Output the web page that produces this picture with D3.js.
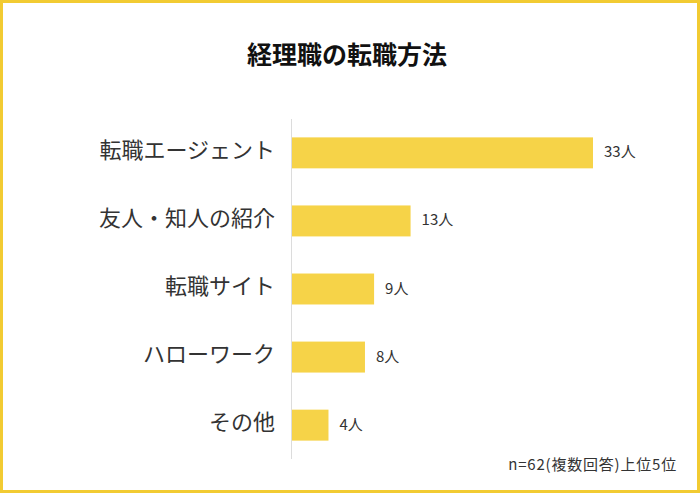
<!DOCTYPE html>
<html><head><meta charset="utf-8">
<script src="https://cdn.jsdelivr.net/npm/d3@7"></script>
<style>
html,body{margin:0;padding:0;background:#fff;}
svg{display:block;}
text{font-family:"Noto Sans CJK JP","Noto Sans",sans-serif;}
</style></head>
<body>
<script>
const categories = ["転職エージェント","友人・知人の紹介","転職サイト","ハローワーク","その他"];
const values = [33,13,9,8,4];
const valueSuffix = "人";
const title = "経理職の転職方法";
const note = "n=62(複数回答)上位5位";

const W = 700, H = 493;
const svg = d3.select("body").append("svg").attr("width", W).attr("height", H);

svg.append("rect").attr("x",1.5).attr("y",1.5).attr("width",W-3).attr("height",H-3)
  .attr("fill","#fff").attr("stroke","#f2cb32").attr("stroke-width",3);

svg.append("text").attr("x",347).attr("y",64).attr("text-anchor","middle")
  .attr("font-size",25).attr("font-weight","bold").attr("fill","#111").text(title);

const x0 = 292;
const x = d3.scaleLinear().domain([0,33]).range([x0, 593]);
const y = d3.scaleBand().domain(categories).range([119, 459]).paddingInner(0.545).paddingOuter(0.27);

svg.append("line").attr("x1",x0-0.5).attr("x2",x0-0.5).attr("y1",119).attr("y2",459)
  .attr("stroke","#dcdcdc").attr("stroke-width",1);

svg.selectAll("rect.bar").data(values).enter().append("rect").attr("class","bar")
  .attr("x",x0).attr("y",(d,i)=>y(categories[i]))
  .attr("width",d=>x(d)-x0).attr("height",y.bandwidth())
  .attr("fill","#f6d348");

svg.selectAll("text.cat").data(categories).enter().append("text").attr("class","cat")
  .attr("x",275).attr("y",d=>y(d)+y.bandwidth()/2).attr("dy","0.24em")
  .attr("text-anchor","end").attr("font-size",22).attr("fill","#333").text(d=>d);

svg.selectAll("text.val").data(values).enter().append("text").attr("class","val")
  .attr("x",d=>x(d)+11).attr("y",(d,i)=>y(categories[i])+y.bandwidth()/2).attr("dy","0.3em")
  .attr("font-size",15).attr("fill","#333").text(d=>d+valueSuffix);

svg.append("text").attr("x",677).attr("y",470).attr("text-anchor","end")
  .attr("font-size",15).attr("letter-spacing","0.8px").attr("fill","#333").text(note);
</script>
</body></html>
